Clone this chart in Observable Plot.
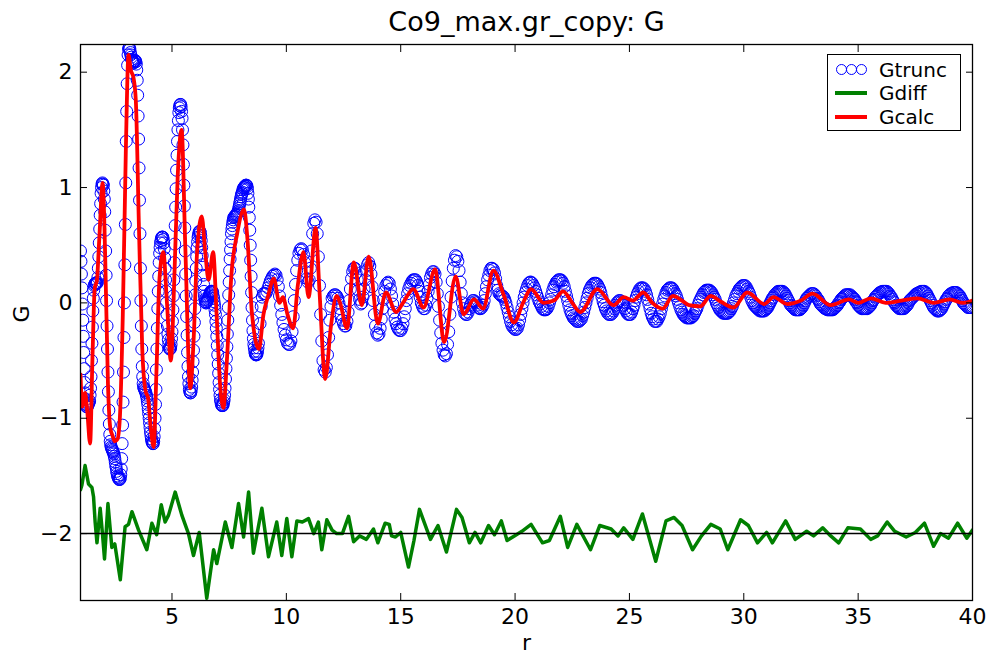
<!DOCTYPE html>
<html>
<head>
<meta charset="utf-8">
<script src="https://cdn.jsdelivr.net/npm/d3@7"></script>
<script src="https://cdn.jsdelivr.net/npm/@observablehq/plot@0.6"></script>
<style>
  body { margin: 0; background: #fff; }
  #wrap { position: relative; width: 987px; height: 655px; font-family: "DejaVu Sans", sans-serif; }
  #legend { position: absolute; left: 827px; top: 54px; width: 134px; height: 77px; box-sizing: border-box;
            border: 1.5px solid #000; background: #fff; }
  #legend .lab { position: absolute; display: block; left: 51px; height: 20px; font-size: 20px; line-height: 20px; color: #000; white-space: nowrap; }
  #legend .circ { position: absolute; width: 11px; height: 11px; box-sizing: border-box; border: 1px solid #0000ff; border-radius: 50%; }
  #legend .ln { position: absolute; left: 7px; width: 32px; height: 4px; }
</style>
</head>
<body>
<div id="wrap"></div>
<script>
// ---- texts ----
const titleText = "Co9_max.gr_copy: G";
const xLabel = "r";
const yLabel = "G";
const seriesNames = ["Gtrunc", "Gdiff", "Gcalc"];
const seriesColors = ["#0000ff", "#008000", "#ff0000"];

// ---- axes ----
const xDomain = [1, 40];
const yDomain = [-2.58, 2.24];
const xTicks = [5, 10, 15, 20, 25, 30, 35, 40];
const yTicks = [-2, -1, 0, 1, 2];
const diffBaseline = [-2];

// ---- Gtrunc (observed, circles) read on r grids ----
const gtruncA_start = 1.0, gtruncA_step = 0.02;
const gtruncA = [
  0.45,0.36,0.25,0.13,-0.01,-0.15,-0.29,-0.43,-0.57,-0.69,
  -0.78,-0.84,-0.88,-0.9,-0.9,-0.9,-0.89,-0.88,-0.87,-0.86,
  -0.85,-0.8,-0.74,-0.64,-0.5,-0.35,-0.21,-0.07,0.04,0.11,
  0.15,0.16,0.17,0.17,0.17,0.17,0.17,0.18,0.22,0.3,
  0.4,0.52,0.64,0.76,0.86,0.95,1.0,1.03,1.04,1.03,
  1.02,0.97,0.9,0.79,0.63,0.45,0.24,0.02,-0.2,-0.4,
  -0.6,-0.77,-0.93,-1.05,-1.14,-1.2,-1.23,-1.25,-1.26,-1.27,
  -1.28,-1.29,-1.3,-1.31,-1.33,-1.35,-1.38,-1.41,-1.43,-1.46,
  -1.48,-1.5,-1.51,-1.52,-1.53,-1.53,-1.53,-1.52,-1.49,-1.44,
  -1.35,-1.22,-1.06,-0.86,-0.6,-0.3,0.0,0.33,0.68,1.04,
  1.4,1.66,1.9,2.06,2.15,2.2,2.21,2.21,2.2,2.17,
  2.15,2.13,2.11,2.1,2.09,2.08,2.08,2.09,2.1,2.1,
  2.1,2.09,2.07,2.02,1.93,1.8,1.62,1.42,1.17,0.89,
  0.6,0.3,0.02,-0.2,-0.4,-0.55,-0.64,-0.7,-0.73,-0.74,
  -0.75,-0.76,-0.77,-0.78,-0.8,-0.82,-0.85,-0.88,-0.92,-0.96,
  -1.0,-1.04,-1.08,-1.12,-1.15,-1.18,-1.2,-1.21,-1.22,-1.22,
  -1.2,-1.16,-1.09,-1.0,-0.88,-0.75,-0.58,-0.4,-0.22,-0.05,
  0.1,0.23,0.35,0.43,0.48,0.52,0.54,0.56,0.57,0.57,
  0.57,0.55,0.52,0.47,0.39,0.3,0.2,0.1,0.0,-0.1,
  -0.2,-0.27,-0.32,-0.36,-0.39,-0.4,-0.4,-0.39,-0.36,-0.31,
  -0.25,-0.16,-0.06,0.06,0.2,0.35,0.51,0.67,0.83,0.99,
  1.15,1.28,1.4,1.5,1.58,1.65,1.69,1.71,1.72,1.72,
  1.7,1.66,1.6,1.5,1.37,1.2,1.02,0.84,0.65,0.45,
  0.25,0.06,-0.12,-0.28,-0.43,-0.55,-0.64,-0.7,-0.75,-0.77,
  -0.78,-0.78,-0.76,-0.73,-0.67,-0.6,-0.51,-0.41,-0.29,-0.17,
  -0.05,0.07,0.19,0.3,0.4,0.48,0.53,0.57,0.59,0.61,
  0.62,0.62,0.61,0.58,0.54,0.48,0.41,0.33,0.24,0.16,
  0.1,0.06,0.03,0.01,0.0,0.0,0.01,0.02,0.03,0.04,
  0.05,0.06,0.07,0.08,0.09,0.1,0.1,0.1,0.1,0.09,
  0.06,0.04,0.01,-0.02,-0.06,-0.1,-0.16,-0.22,-0.29,-0.37,
  -0.45,-0.53,-0.61,-0.69,-0.75,-0.8,-0.84,-0.86,-0.88,-0.89,
  -0.89,-0.89,-0.88,-0.86,-0.84,-0.8,-0.74,-0.66,-0.57,-0.48,
  -0.38,-0.27,-0.15,-0.04,0.07,0.18,0.28,0.38,0.46,0.53,
  0.6,0.64,0.67,0.7,0.72,0.74,0.74,0.75,0.75,0.76,
  0.76,0.77,0.77,0.78,0.79,0.8,0.82,0.84,0.86,0.88,
  0.9,0.92,0.94,0.95,0.96,0.98,0.99,1.0,1.0,1.01,
  1.01,1.02,1.02,1.02,1.01,0.99,0.95,0.9,0.83,0.74,
  0.63,0.5,0.37,0.23,0.09,-0.04,-0.15,-0.24,-0.31,-0.36,
  -0.39,-0.42,-0.44,-0.45,-0.45,-0.45,-0.44,-0.42,-0.39,-0.35
];
const gtruncB_start = 8.85, gtruncB_step = 0.05;
const gtruncB = [
  -0.18,-0.03,0.05,
  0.08,0.08,0.08,0.1,0.13,0.16,0.19,0.21,0.23,0.24,0.25,0.24,0.2,0.14,0.06,-0.02,-0.1,-0.17,-0.23,-0.28,
  -0.32,-0.35,-0.36,-0.36,-0.33,-0.25,-0.12,0.02,0.16,0.28,0.37,0.43,0.46,0.47,0.46,0.42,0.35,0.27,0.21,0.18,
  0.2,0.3,0.45,0.6,0.69,0.72,0.7,0.6,0.4,0.15,-0.1,-0.33,-0.5,-0.58,-0.6,-0.56,-0.45,-0.3,-0.15,-0.03,
  0.04
];
const gtruncC_start = 12.05, gtruncC_step = 0.05;
const gtruncC = [
  0.06,0.07,0.07,0.06,0.04,0.0,-0.05,-0.1,-0.15,-0.18,-0.2,-0.2,-0.16,-0.08,0.02,0.12,0.21,0.27,0.3,0.3,
  0.26,0.2,0.11,0.03,-0.01,0.0,0.05,0.12,0.2,0.28,0.33,0.35,0.32,0.25,0.14,0.02,-0.1,-0.2,-0.26,-0.28,
  -0.27,-0.22,-0.14,-0.05,0.03,0.1,0.15,0.17,0.18,0.17,0.12,0.06,-0.01,-0.08,-0.14,-0.18,-0.21,-0.23,-0.24,-0.24,
  -0.22,-0.18,-0.12,-0.05,0.02,0.08,0.12,0.15,0.17,0.19,0.2,0.2,0.2,0.18,0.15,0.1,0.05,0.0,-0.03,-0.05,
  -0.05,-0.02,0.04,0.1,0.16,0.22,0.25,0.27,0.27,0.25,0.18,0.08,-0.03,-0.15,-0.26,-0.35,-0.41,-0.45,-0.46,-0.44,
  -0.36,-0.25,-0.1,0.05,0.19,0.3,0.37,0.41,0.4,0.36,0.28,0.18,0.08,0.0,-0.05,-0.09,-0.1,-0.1,-0.08,-0.05,
  -0.02,0.0,0.02,0.02,0.01,0.0,-0.02,-0.04,-0.05,-0.05,-0.04,-0.02,0.02,0.08,0.14,0.2,0.24,0.28,0.3,0.3,
  0.29,0.26,0.21,0.15,0.11,0.08,0.07,0.06,0.06,0.05,0.03,0.0,-0.04,-0.08,-0.12,-0.16,-0.19,-0.21,-0.22,-0.23,
  -0.23,-0.22,-0.19,-0.15,-0.1,-0.05,0.0,0.05,0.09,0.12,0.15,0.17,0.18,0.18,0.17,0.15,0.13,0.1,0.07,0.04,
  0.01,-0.01,-0.03,-0.05,-0.06,-0.06,-0.06,-0.05,-0.03,0.0,0.03,0.07,0.11,0.14,0.16,0.18,0.19,0.2,0.2,0.2,
  0.19,0.17,0.14,0.1,0.06,0.02,-0.02,-0.06,-0.09,-0.11,-0.13,-0.14,-0.15,-0.16,-0.16,-0.16,-0.15,-0.14,-0.11,-0.08,
  -0.04,0.0,0.04,0.08,0.11,0.13,0.15,0.16,0.17,0.17,0.17,0.16,0.14,0.12,0.09,0.05,0.01,-0.02,-0.05,-0.07,
  -0.09,-0.1,-0.1,-0.1,-0.09,-0.07,-0.05,-0.02,0.0,0.01,0.02,0.02,0.01,0.0,-0.02,-0.05,-0.07,-0.09,-0.1,-0.1,
  -0.1,-0.08,-0.05,-0.02,0.02,0.05,0.08,0.1,0.12,0.13,0.13,0.13,0.12,0.1,0.07,0.03,-0.01,-0.05,-0.09,-0.12,
  -0.14,-0.16,-0.16,-0.16,-0.14,-0.12,-0.09,-0.05,-0.01,0.03,0.06,0.09,0.11,0.12,0.13,0.13,0.13,0.12,0.1,0.08,
  0.06,0.03,0.0,-0.03,-0.06,-0.08,-0.1,-0.11,-0.12,-0.13,-0.13,-0.13,-0.13,-0.13,-0.12,-0.11,-0.09,-0.07,-0.05,-0.02,
  0.01,0.03,0.05,0.07,0.09,0.1,0.11,0.11,0.11,0.11,0.1,0.09,0.07,0.05,0.03,0.0,-0.02,-0.04,-0.06,-0.07,
  -0.08,-0.09,-0.09,-0.09,-0.09,-0.09,-0.08,-0.07,-0.05,-0.03,0.0,0.03,0.06,0.08,0.1,0.12,0.13,0.14,0.15,0.15,
  0.15,0.14,0.12,0.1,0.08,0.05,0.02,0.0,-0.02,-0.03,-0.04,-0.05,-0.06,-0.07,-0.07,-0.07,-0.07,-0.07,-0.06,-0.05,
  -0.04,-0.02,0.0,0.02,0.04,0.05,0.07,0.08,0.09,0.1,0.1,0.1,0.1,0.1,0.09,0.08,0.06,0.04,0.02,0.0,
  -0.02,-0.03,-0.04,-0.05,-0.06,-0.06,-0.06,-0.06,-0.06,-0.05,-0.04,-0.02,0.0,0.02,0.04,0.05,0.06,0.07,0.08,0.08,
  0.08,0.07,0.06,0.04,0.03,0.01,-0.01,-0.02,-0.03,-0.04,-0.05,-0.05,-0.06,-0.06,-0.06,-0.06,-0.06,-0.06,-0.05,-0.04,
  -0.03,-0.02,0.0,0.01,0.03,0.04,0.05,0.06,0.07,0.07,0.07,0.07,0.07,0.06,0.05,0.04,0.03,0.01,0.0,-0.02,
  -0.03,-0.04,-0.05,-0.05,-0.05,-0.05,-0.05,-0.05,-0.04,-0.03,-0.02,0.0,0.02,0.03,0.05,0.06,0.07,0.08,0.09,0.09,
  0.1,0.1,0.1,0.1,0.1,0.09,0.08,0.06,0.05,0.03,0.01,0.0,-0.02,-0.03,-0.04,-0.05,-0.05,-0.05,-0.05,-0.05,
  -0.04,-0.03,-0.02,0.0,0.02,0.03,0.04,0.05,0.06,0.07,0.08,0.08,0.09,0.09,0.1,0.1,0.1,0.1,0.09,0.08,
  0.06,0.04,0.02,0.0,-0.02,-0.04,-0.05,-0.06,-0.07,-0.07,-0.07,-0.06,-0.05,-0.03,-0.01,0.01,0.03,0.04,0.06,0.07,
  0.08,0.08,0.09,0.09,0.09,0.09,0.08,0.07,0.06,0.04,0.02,0.0,-0.01,-0.02,-0.03,-0.04,-0.04,-0.04,-0.04,-0.03
];

// ---- Gcalc (red line) [r, G] ----
const gcalc = [
  [1.0,-0.62],[1.08,-0.9],[1.2,-0.78],[1.3,-0.95],[1.42,-1.22],[1.52,-0.5],[1.62,0.12],[1.72,0.2],[1.82,0.55],[1.97,1.04],
  [2.08,0.4],[2.2,-0.7],[2.3,-1.08],[2.4,-1.15],[2.5,-1.2],[2.62,-1.18],[2.72,-1.0],[2.85,-0.1],[2.98,1.3],[3.1,2.15],
  [3.2,2.02],[3.32,1.95],[3.42,1.75],[3.55,0.7],[3.7,-0.4],[3.85,-0.77],[3.95,-0.82],[4.08,-1.1],[4.2,-1.25],[4.32,-0.6],
  [4.45,0.2],[4.62,0.44],[4.78,0.0],[4.95,-0.5],[5.1,0.2],[5.25,1.1],[5.42,1.5],[5.58,0.5],[5.8,-0.74],[5.95,-0.3],
  [6.1,0.45],[6.3,0.75],[6.45,0.45],[6.6,0.2],[6.8,0.44],[6.95,-0.1],[7.1,-0.7],[7.25,-0.91],[7.4,-0.5],[7.6,0.25],
  [7.85,0.6],[8.15,0.81],[8.3,0.55],[8.5,-0.1],[8.8,-0.4],[9.0,-0.1],[9.2,0.06],[9.45,0.21],[9.7,0.0],[9.85,0.05],
  [10.05,-0.1],[10.3,-0.22],[10.5,0.15],[10.75,0.44],[10.97,0.05],[11.28,0.65],[11.45,0.1],[11.7,-0.66],[11.95,-0.2],[12.2,0.06],
  [12.35,0.0],[12.65,-0.22],[12.95,0.35],[13.3,-0.02],[13.6,0.4],[14.0,-0.18],[14.35,0.09],[14.8,-0.08],[15.1,0.0],[15.55,0.12],
  [16.0,-0.04],[16.5,0.29],[16.9,-0.34],[17.4,0.23],[17.75,-0.1],[18.2,0.03],[18.6,-0.05],[19.05,0.28],[19.5,0.07],[19.95,-0.17],
  [20.35,0.0],[20.7,0.12],[21.25,0.0],[21.7,0.02],[22.1,0.1],[22.5,0.0],[22.85,-0.08],[23.6,0.12],[24.3,-0.02],[24.75,0.05],
  [25.15,0.02],[25.6,0.09],[26.0,0.0],[26.45,-0.05],[26.9,0.06],[27.3,0.02],[27.6,-0.02],[28.1,-0.03],[28.55,0.06],[29.0,0.01],
  [29.55,-0.04],[30.15,0.09],[30.9,-0.01],[31.3,0.05],[31.9,-0.01],[32.5,0.02],[33.0,0.08],[33.8,-0.02],[34.6,0.03],[35.0,0.0],
  [35.55,0.04],[36.2,0.0],[36.9,0.02],[37.6,0.04],[38.3,0.0],[39.0,0.03],[39.6,0.0],[40.0,0.02]
];

// ---- Gdiff (green line, offset by -2) [r, G] ----
const gdiff = [
  [1.0,-1.62],[1.06,-1.58],[1.2,-1.41],[1.35,-1.57],[1.5,-1.6],[1.57,-1.68],[1.64,-1.9],[1.72,-2.08],[1.86,-1.78],[1.96,-2.0],
  [2.05,-2.22],[2.2,-1.74],[2.37,-2.12],[2.5,-2.09],[2.74,-2.4],[2.95,-1.94],[3.1,-1.92],[3.25,-1.81],[3.54,-1.97],[3.9,-2.14],
  [4.12,-1.91],[4.33,-2.01],[4.53,-1.75],[4.7,-1.9],[4.85,-1.84],[5.14,-1.64],[5.43,-1.84],[5.72,-2.0],[5.94,-2.19],[6.19,-1.99],
  [6.52,-2.56],[6.82,-2.14],[6.96,-2.26],[7.33,-1.9],[7.62,-2.12],[7.91,-1.74],[8.13,-2.03],[8.35,-1.64],[8.56,-2.17],[8.93,-1.78],
  [9.22,-2.2],[9.58,-1.9],[9.8,-2.19],[10.02,-1.87],[10.24,-2.2],[10.46,-1.89],[10.7,-1.9],[10.97,-1.87],[11.2,-2.0],[11.4,-1.9],
  [11.55,-2.14],[11.77,-1.88],[12.0,-1.97],[12.2,-2.0],[12.45,-2.0],[12.72,-1.85],[12.94,-2.07],[13.2,-2.02],[13.5,-2.05],[13.81,-1.96],
  [14.0,-2.08],[14.32,-1.91],[14.5,-1.92],[14.6,-2.02],[14.77,-2.03],[15.0,-1.99],[15.34,-2.29],[15.58,-2.06],[15.82,-1.79],[16.06,-1.92],
  [16.3,-2.05],[16.63,-1.93],[17.0,-2.16],[17.44,-1.79],[17.68,-1.86],[18.0,-2.08],[18.25,-1.99],[18.5,-2.08],[18.84,-1.93],[19.1,-2.01],
  [19.4,-1.89],[19.65,-2.06],[19.97,-2.02],[20.3,-1.98],[20.7,-1.92],[21.2,-2.08],[21.5,-2.06],[21.98,-1.85],[22.3,-2.12],[22.7,-1.92],
  [23.3,-2.14],[23.7,-1.93],[24.2,-1.96],[24.5,-2.02],[24.75,-1.95],[25.15,-2.05],[25.57,-1.83],[26.15,-2.24],[26.6,-1.89],[26.95,-1.86],
  [27.3,-1.93],[27.76,-2.14],[28.15,-2.02],[28.56,-1.92],[28.97,-1.96],[29.3,-2.14],[29.86,-1.88],[30.2,-1.93],[30.6,-2.08],[31.0,-1.99],
  [31.25,-2.08],[31.83,-1.89],[32.25,-2.05],[32.75,-1.98],[33.05,-2.02],[33.45,-1.95],[33.8,-2.02],[34.15,-2.08],[34.55,-1.95],[35.1,-1.96],
  [35.55,-2.05],[35.85,-2.02],[36.27,-1.9],[36.6,-1.98],[37.1,-2.03],[37.5,-1.99],[37.9,-1.91],[38.3,-2.11],[38.6,-2.0],[38.95,-2.04],
  [39.35,-1.91],[39.75,-2.04],[40.0,-1.97]
];

// ---- build tables ----
function onGrid(start, step, vals) {
  return vals.map((G, i) => ({r: +(start + i * step).toFixed(3), G}));
}
const gtrunc = [
  ...onGrid(gtruncA_start, gtruncA_step, gtruncA),
  ...onGrid(gtruncB_start, gtruncB_step, gtruncB),
  ...onGrid(gtruncC_start, gtruncC_step, gtruncC)
];
const calcRows = gcalc.map(([r, G]) => ({r, G}));
const diffRows = gdiff.map(([r, G]) => ({r, G}));

const fmt = d => (d < 0 ? "\u2212" + Math.abs(d) : String(d));
const noText = () => "";

const chart = Plot.plot({
  width: 987,
  height: 655,
  marginLeft: 80,
  marginRight: 15,
  marginTop: 44,
  marginBottom: 55,
  style: {fontFamily: '"DejaVu Sans", sans-serif', fontSize: "22px", background: "#fff", color: "#000", overflow: "visible"},
  x: {domain: xDomain, label: null},
  y: {domain: yDomain, label: null},
  marks: [
    Plot.dot(gtrunc, {x: "r", y: "G", r: 6, stroke: seriesColors[0], strokeWidth: 1, fill: "none", clip: true}),
    Plot.line(diffRows, {x: "r", y: "G", stroke: seriesColors[1], strokeWidth: 3.5, strokeLinejoin: "round", clip: true}),
    Plot.ruleY(diffBaseline, {stroke: "#000", strokeWidth: 1.5}),
    Plot.line(calcRows, {x: "r", y: "G", stroke: seriesColors[2], strokeWidth: 3.8, curve: "monotone-x", strokeLinejoin: "round", clip: true}),
    Plot.frame({stroke: "#000", strokeWidth: 1.3}),
    Plot.axisX({anchor: "bottom", ticks: xTicks, tickSize: -7, tickPadding: 15, tickFormat: fmt, label: null, fontSize: 22}),
    Plot.axisX({anchor: "top", ticks: xTicks, tickSize: -7, tickFormat: noText, label: null}),
    Plot.axisY({anchor: "left", ticks: yTicks, tickSize: -7, tickPadding: 15, tickFormat: fmt, label: null, fontSize: 22}),
    Plot.axisY({anchor: "right", ticks: yTicks, tickSize: -7, tickFormat: noText, label: null}),
    Plot.text([titleText], {frameAnchor: "top", dy: -22, lineAnchor: "middle", fontSize: 27}),
    Plot.text([xLabel], {frameAnchor: "bottom", dy: 42, lineAnchor: "middle", fontSize: 22}),
    Plot.text([yLabel], {frameAnchor: "left", dx: -59, rotate: -90, lineAnchor: "middle", fontSize: 22})
  ]
});

const wrap = document.getElementById("wrap");
wrap.appendChild(chart);

// ---- legend ----
const legend = document.createElement("div");
legend.id = "legend";
const rowCenters = [14.5, 38, 61.5];
seriesNames.forEach((name, i) => {
  const cy = rowCenters[i];
  if (i === 0) {
    [8, 18, 28].forEach(left => {
      const c = document.createElement("span");
      c.className = "circ";
      c.style.left = left + "px";
      c.style.top = (cy - 5.5) + "px";
      c.style.borderColor = seriesColors[i];
      legend.appendChild(c);
    });
  } else {
    const l = document.createElement("span");
    l.className = "ln";
    l.style.top = (cy - 2) + "px";
    l.style.background = seriesColors[i];
    legend.appendChild(l);
  }
  const t = document.createElement("span");
  t.className = "lab";
  t.style.top = (cy - 10) + "px";
  t.textContent = name;
  legend.appendChild(t);
});
wrap.appendChild(legend);
</script>
</body>
</html>
